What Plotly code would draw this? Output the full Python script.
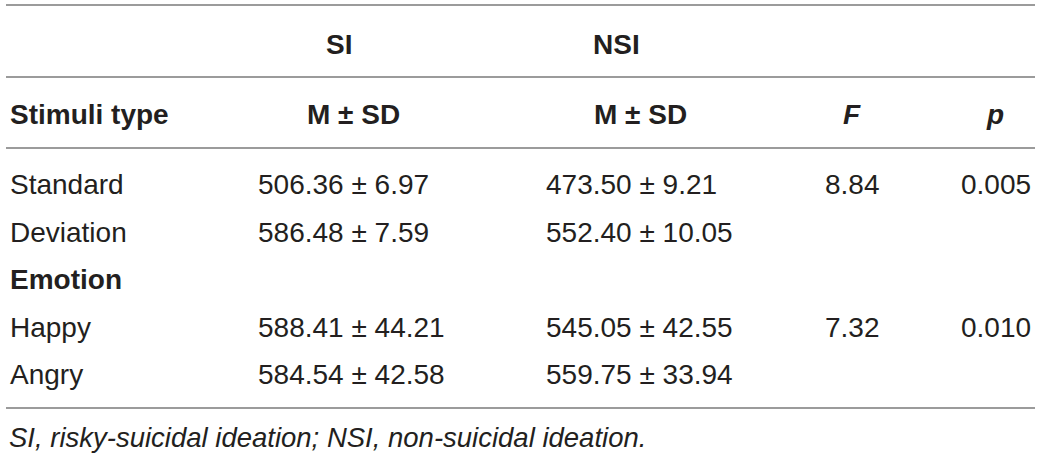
import plotly.graph_objects as go

# ---- data ----
row_labels = ["Standard", "Deviation", "Emotion", "Happy", "Angry"]
row_is_group = [False, False, True, False, False]
si_mean = [506.36, 586.48, None, 588.41, 584.54]
si_sd = [6.97, 7.59, None, 44.21, 42.58]
nsi_mean = [473.50, 552.40, None, 545.05, 559.75]
nsi_sd = [9.21, 10.05, None, 42.55, 33.94]
f_vals = [8.84, None, None, 7.32, None]
p_vals = [0.005, None, None, 0.010, None]
group_headers = ["SI", "NSI"]
col_headers = ["Stimuli type", "M ± SD", "M ± SD", "<i>F</i>", "<i>p</i>"]
footnote = "SI, risky-suicidal ideation; NSI, non-suicidal ideation."

# ---- layout constants ----
W, H = 1040, 457
FONT = "Liberation Sans, Arial, Helvetica, sans-serif"
TXT = "#231f20"
LINE = "#9b9b9b"
FS = 28
row_y = [184, 232, 279, 327, 374]
hline_y = [5, 77, 148, 408]

fig = go.Figure()
ann = []

def add(x, y, text, anchor="left", bold=False, italic=False, size=FS):
    t = text
    if bold:
        t = f"<b>{t}</b>"
    if italic:
        t = f"<i>{t}</i>"
    ann.append(dict(x=x, y=y, xref="x", yref="y", text=t, showarrow=False,
                    xanchor=anchor, yanchor="middle",
                    font=dict(family=FONT, size=size, color=TXT)))

# group headers
add(339, 44, group_headers[0], "center", bold=True)
add(616, 44, group_headers[1], "center", bold=True)
# column headers
add(8, 114, col_headers[0], "left", bold=True)
add(353, 114, col_headers[1], "center", bold=True)
add(640, 114, col_headers[2], "center", bold=True)
add(852, 114, col_headers[3], "center", bold=True)
add(995, 114, col_headers[4], "center", bold=True)

for i, lab in enumerate(row_labels):
    y = row_y[i]
    add(8, y, lab, "left", bold=row_is_group[i])
    if si_mean[i] is not None:
        add(256, y, f"{si_mean[i]:.2f} ± {si_sd[i]:.2f}", "left")
    if nsi_mean[i] is not None:
        add(544, y, f"{nsi_mean[i]:.2f} ± {nsi_sd[i]:.2f}", "left")
    if f_vals[i] is not None:
        add(852, y, f"{f_vals[i]:.2f}", "center")
    if p_vals[i] is not None:
        add(1033, y, f"{p_vals[i]:.3f}", "right")

add(7, 437, footnote, "left", italic=True, size=27.5)

shapes = [dict(type="line", xref="x", yref="y", x0=6, x1=1035, y0=yy, y1=yy,
               line=dict(color=LINE, width=2)) for yy in hline_y]

fig.update_layout(
    width=W, height=H, margin=dict(l=0, r=0, t=0, b=0),
    paper_bgcolor="white", plot_bgcolor="white",
    xaxis=dict(range=[0, W], visible=False, fixedrange=True),
    yaxis=dict(range=[H, 0], visible=False, fixedrange=True),
    annotations=ann, shapes=shapes, showlegend=False,
)
fig.write_html("out.html", config={"displayModeBar": False},
               post_script="document.body.style.margin='0';document.body.style.overflow='hidden';")
